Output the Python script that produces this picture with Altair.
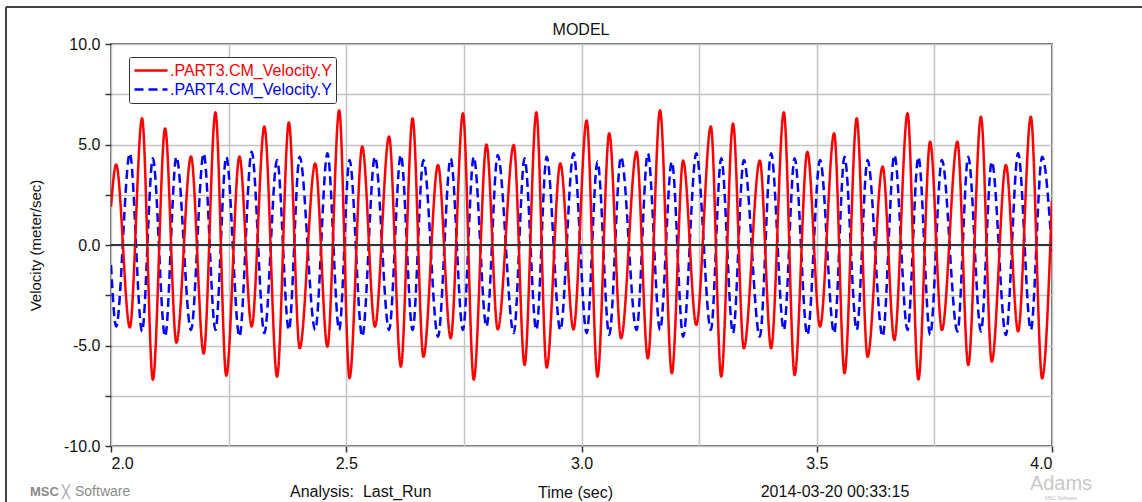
import altair as alt
import pandas as pd

FONT = "Liberation Sans"

S3 = ".PART3.CM_Velocity.Y"
S4 = ".PART4.CM_Velocity.Y"

# times (sec) of successive peaks / troughs
t_ext = [2.011, 2.040, 2.066, 2.089, 2.115, 2.139, 2.170, 2.197, 2.222, 2.245,
         2.273, 2.299, 2.326, 2.353, 2.378, 2.401, 2.434, 2.460, 2.485, 2.507,
         2.534, 2.561, 2.591, 2.616, 2.641, 2.664, 2.695, 2.722, 2.748, 2.771,
         2.798, 2.822, 2.856, 2.879, 2.904, 2.926, 2.955, 2.983, 3.011, 3.034,
         3.059, 3.084, 3.117, 3.141, 3.167, 3.192, 3.216, 3.244, 3.275, 3.297,
         3.322, 3.345, 3.379, 3.403, 3.430, 3.453, 3.480, 3.507, 3.537, 3.559,
         3.585, 3.608, 3.640, 3.665, 3.693, 3.716, 3.741, 3.766, 3.799, 3.822,
         3.849, 3.872, 3.902, 3.928, 3.955, 3.979]

# PART3 velocity at those extremes (meter/sec)
red_ext = [4.0, -4.1, 6.3, -6.7, 5.8, -4.86, 4.4, -5.4, 6.6, -6.5,
           4.4, -4.06, 5.9, -6.55, 6.1, -5.14, 4.06, -5.06, 6.7, -6.63,
           4.9, -4.06, 5.4, -6.05, 6.3, -5.56, 3.98, -4.64, 6.55, -6.7,
           5.0, -4.2, 4.97, -5.97, 6.6, -6.1, 4.06, -4.2, 6.2, -6.55,
           5.56, -4.64, 4.64, -5.64, 6.7, -6.38, 4.2, -3.98, 5.9, -6.55,
           6.05, -5.14, 4.2, -5.14, 6.6, -6.47, 4.64, -4.06, 5.56, -6.38,
           6.3, -5.56, 3.9, -4.73, 6.55, -6.7, 5.14, -4.23, 5.14, -5.97,
           6.38, -5.8, 3.98, -4.3, 6.38, -6.63]

# PART4 velocity at the same instants (meter/sec)
blue_ext = [-4.06, 4.56, -4.31, 4.31, -4.56, 4.39, -4.23, 4.56, -4.23, 4.39,
            -4.56, 4.64, -4.39, 4.23, -4.23, 4.39, -4.23, 4.56, -4.23, 4.23,
            -4.56, 4.39, -4.23, 4.48, -4.23, 4.23, -4.56, 4.31, -4.23, 4.39,
            -4.06, 4.48, -4.39, 4.31, -4.23, 4.39, -4.23, 4.56, -4.39, 4.15,
            -4.48, 4.39, -4.23, 4.56, -4.23, 4.15, -4.56, 4.56, -4.23, 4.31,
            -4.39, 4.23, -4.56, 4.56, -4.23, 4.31, -4.48, 4.23, -4.39, 4.39,
            -4.23, 4.23, -4.56, 4.48, -4.23, 4.39, -4.48, 4.23, -4.31, 4.39,
            -4.3, 4.15, -4.48, 4.56, -4.23, 4.39]

t_start, t_end = 2.0, 4.0
red_start, red_end = 1.9, 2.2
blue_start, blue_end = -1.0, -0.3

x_grid = [2.0, 2.25, 2.5, 2.75, 3.0, 3.25, 3.5, 3.75, 4.0]
y_grid = [-10.0, -7.5, -5.0, -2.5, 0.0, 2.5, 5.0, 7.5, 10.0]

time = [t_start] + t_ext + [t_end]
red = [red_start] + red_ext + [red_end]
blue = [blue_start] + blue_ext + [blue_end]

df_red = pd.DataFrame({"t": time, "v": red, "series": S3})
df_blue = pd.DataFrame({"t": time, "v": blue, "series": S4})

xscale = alt.Scale(domain=[2, 4], nice=False, zero=False)
yscale = alt.Scale(domain=[-10, 10], nice=False, zero=False)

x_axis = alt.Axis(
    values=x_grid,
    labelExpr="(datum.value * 2) % 1 == 0 ? format(datum.value, '.1f') : ''",
    tickOpacity={"condition": {"test": "(datum.value * 2) % 1 == 0", "value": 1}, "value": 0},
    labelPadding=3,
    title="Time (sec)",
    titleX=464,
    titleY=51,
    titleAlign="center",
    titleBaseline="alphabetic",
)
y_axis = alt.Axis(
    values=y_grid,
    labelExpr="datum.value % 5 == 0 ? replace(format(datum.value, '.1f'), '\u2212', '-') : ''",
    labelPadding=5,
    title="Velocity (meter/sec)",
    titleX=-76,
    titleY=201,
    titleAngle=-90,
    titleAlign="center",
    titleBaseline="middle",
    titleFontSize=15,
)

color_scale = alt.Scale(domain=[S3, S4], range=["#ff0000", "#0000ff"])
dash_scale = alt.Scale(domain=[S3, S4], range=[[1, 0], [9, 5]])

legend = alt.Legend(
    title=None,
    orient="none",
    legendX=18,
    legendY=13,
    fillColor="white",
    strokeColor="#333333",
    padding=4,
    cornerRadius=2,
    labelFont=FONT,
    labelFontSize=16,
    labelColor=alt.ExprRef(expr="datum.value == '.PART3.CM_Velocity.Y' ? '#ff0000' : '#0000ff'"),
    labelOffset=1,
    labelLimit=400,
    symbolType="stroke",
    symbolSize=1089,
    symbolStrokeWidth=2.5,
    clipHeight=19,
    rowPadding=0,
)


def line_layer(df):
    return alt.Chart(df).mark_line(interpolate="monotone", strokeWidth=2.5, clip=True).encode(
        x=alt.X("t:Q", scale=xscale, axis=x_axis),
        y=alt.Y("v:Q", scale=yscale, axis=y_axis),
        color=alt.Color("series:N", scale=color_scale, legend=legend),
        strokeDash=alt.StrokeDash("series:N", scale=dash_scale, legend=legend),
    )


one = alt.Data(values=[{}])

zero_line = alt.Chart(one).mark_rule(color="#333333", strokeWidth=2).encode(
    y=alt.datum(0.0)
)


def text_layer(txt, x, y, **kw):
    return alt.Chart(one).mark_text(text=txt, font=FONT, baseline="alphabetic", **kw).encode(
        x=alt.value(x), y=alt.value(y)
    )


frame_left = alt.Chart(one).mark_rule(color="#444444", strokeWidth=2).encode(
    x=alt.value(-105), y=alt.value(-37), y2=alt.value(460)
)
frame_top = alt.Chart(one).mark_rule(color="#444444", strokeWidth=2).encode(
    x=alt.value(-105), x2=alt.value(1040), y=alt.value(-37)
)

texts = [
    text_layer("MODEL", 470, -9, align="center", fontSize=16, color="#111111"),
    text_layer("Analysis:\u00a0 Last_Run", 179, 453, align="left", fontSize=16, color="#111111"),
    text_layer("2014-03-20 00:33:15", 724, 453, align="center", fontSize=16, color="#111111"),
    text_layer("MSC", -81, 452, align="left", fontSize=13, fontWeight="bold", color="#8a8a8a"),
    text_layer("\u2573", -49, 452, align="left", fontSize=13, color="#9a9a9a"),
    text_layer("Software", -36, 452, align="left", fontSize=14, color="#8a8a8a"),
    text_layer("Adams", 950, 446, align="center", fontSize=20, color="#c8c8c8"),
    text_layer("MSC Software", 950, 456, align="center", fontSize=5, color="#bbbbbb"),
]

chart = alt.layer(
    frame_left,
    frame_top,
    line_layer(df_blue),
    line_layer(df_red),
    zero_line,
    *texts,
).resolve_scale(color="shared", strokeDash="shared").properties(
    width=941,
    height=402,
    autosize=alt.AutoSizeParams(type="none"),
    padding={"left": 111, "top": 44, "right": 90, "bottom": 56},
    background="white",
).configure_view(
    stroke="#333333", strokeWidth=1.5
).configure_axis(
    gridColor="#c4c4c4", gridWidth=1.5, domain=False,
    tickColor="#333333", tickWidth=1.5, tickSize=6,
    labelFont=FONT, labelFontSize=16, labelColor="#111111",
    titleFont=FONT, titleFontSize=16, titleFontWeight="normal", titleColor="#111111",
)

chart.save("out.html", embed_options={"renderer": "svg", "actions": False})
